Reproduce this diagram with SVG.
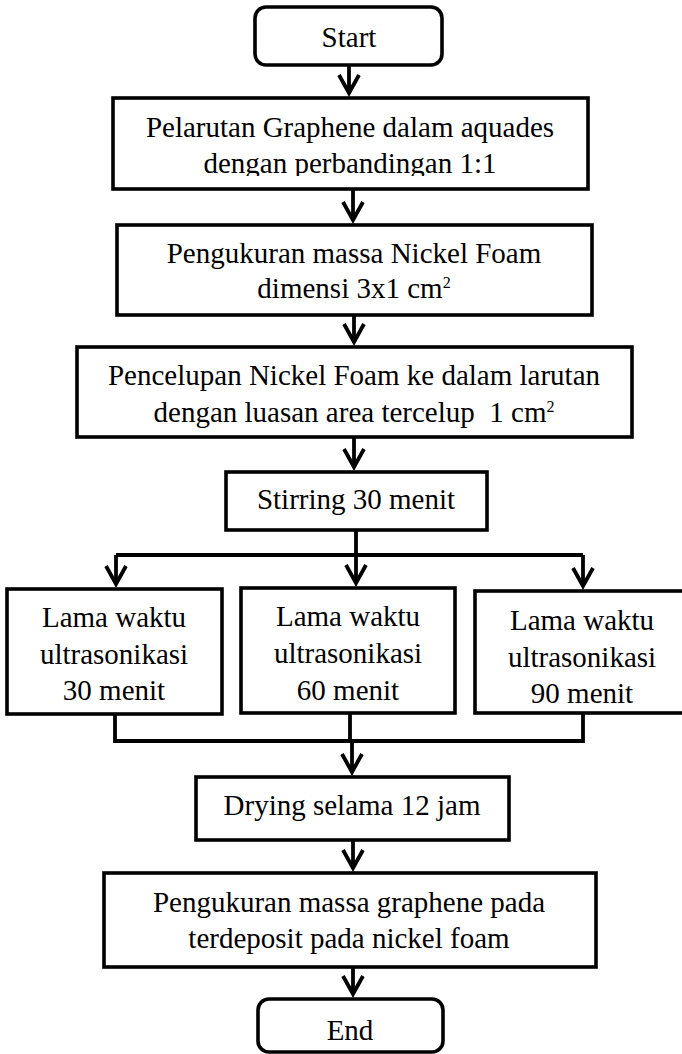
<svg xmlns="http://www.w3.org/2000/svg" width="682" height="1054" viewBox="0 0 682 1054">
<style>
.box{fill:#fff;stroke:#000;stroke-width:3.6}
.t{font-family:"Liberation Serif","Times New Roman",serif;font-size:29px;fill:#000;text-anchor:middle}
.sup{font-size:16px}
.c{fill:none;stroke:#000;stroke-width:3.8}
</style>
<defs>
<marker id="arr" markerUnits="userSpaceOnUse" viewBox="-22 -13 24 26" markerWidth="24" markerHeight="26" refX="0" refY="0" orient="auto" overflow="visible">
<path d="M-18,-10 L0,0 L-18,10" fill="none" stroke="#000" stroke-width="3.8" stroke-linejoin="miter"/>
</marker>
<clipPath id="clip1"><rect x="0" y="0" width="682" height="176"/></clipPath>
</defs>
<rect width="682" height="1054" fill="#fff"/>
<g id="connectors">
<line class="c" x1="349" y1="65" x2="349" y2="93" marker-end="url(#arr)"/>
<line class="c" x1="353" y1="189" x2="353" y2="220" marker-end="url(#arr)"/>
<line class="c" x1="354" y1="315" x2="354" y2="342" marker-end="url(#arr)"/>
<line class="c" x1="354" y1="437" x2="354" y2="467" marker-end="url(#arr)"/>
<polyline class="c" points="356,530 356,555"/>
<polyline class="c" points="116,555 583,555"/>
<line class="c" x1="116" y1="555" x2="116" y2="584" marker-end="url(#arr)"/>
<line class="c" x1="356" y1="555" x2="356" y2="583" marker-end="url(#arr)"/>
<line class="c" x1="583" y1="555" x2="583" y2="586" marker-end="url(#arr)"/>
<polyline class="c" points="115,714 115,741 583,741 583,713"/>
<line class="c" x1="350" y1="713" x2="350" y2="741"/>
<line class="c" x1="352" y1="741" x2="352" y2="772" marker-end="url(#arr)"/>
<line class="c" x1="353" y1="840" x2="353" y2="868" marker-end="url(#arr)"/>
<line class="c" x1="353" y1="967" x2="353" y2="994" marker-end="url(#arr)"/>
</g>
<g id="start">
<rect class="box" x="255" y="7" width="187" height="58" rx="11"/>
<text class="t" x="349" y="47">Start</text>
</g>
<g id="pelarutan">
<rect class="box" x="113" y="98" width="475" height="91"/>
<text class="t" x="350" y="137">Pelarutan Graphene dalam aquades</text>
<text class="t" x="350" y="173" clip-path="url(#clip1)">dengan perbandingan 1:1</text>
</g>
<g id="pengukuran-nickel">
<rect class="box" x="117" y="225" width="475" height="90"/>
<text class="t" x="354" y="263">Pengukuran massa Nickel Foam</text>
<text class="t" x="354" y="298">dimensi 3x1 cm<tspan class="sup" dy="-10">2</tspan></text>
</g>
<g id="pencelupan">
<rect class="box" x="77" y="347" width="555" height="90"/>
<text class="t" x="354" y="385">Pencelupan Nickel Foam ke dalam larutan</text>
<text class="t" x="354" y="422" xml:space="preserve">dengan luasan area tercelup  1 cm<tspan class="sup" dy="-10">2</tspan></text>
</g>
<g id="stirring">
<rect class="box" x="226" y="472" width="261" height="58"/>
<text class="t" x="356" y="509">Stirring 30 menit</text>
</g>
<g id="ultra30">
<rect class="box" x="7" y="589" width="215" height="125"/>
<text class="t" x="114" y="627">Lama waktu</text>
<text class="t" x="114" y="664">ultrasonikasi</text>
<text class="t" x="114" y="700">30 menit</text>
</g>
<g id="ultra60">
<rect class="box" x="241" y="588" width="214" height="125"/>
<text class="t" x="348" y="626">Lama waktu</text>
<text class="t" x="348" y="663">ultrasonikasi</text>
<text class="t" x="348" y="700">60 menit</text>
</g>
<g id="ultra90">
<rect class="box" x="475" y="591" width="210" height="122"/>
<text class="t" x="582" y="630">Lama waktu</text>
<text class="t" x="582" y="667">ultrasonikasi</text>
<text class="t" x="582" y="703">90 menit</text>
</g>
<g id="drying">
<rect class="box" x="196" y="777" width="313" height="63"/>
<text class="t" x="352" y="815">Drying selama 12 jam</text>
</g>
<g id="pengukuran-graphene">
<rect class="box" x="104" y="873" width="492" height="94"/>
<text class="t" x="349" y="912">Pengukuran massa graphene pada</text>
<text class="t" x="349" y="948">terdeposit pada nickel foam</text>
</g>
<g id="end">
<rect class="box" x="258" y="999" width="185" height="53" rx="11"/>
<text class="t" x="350" y="1040">End</text>
</g>
</svg>
